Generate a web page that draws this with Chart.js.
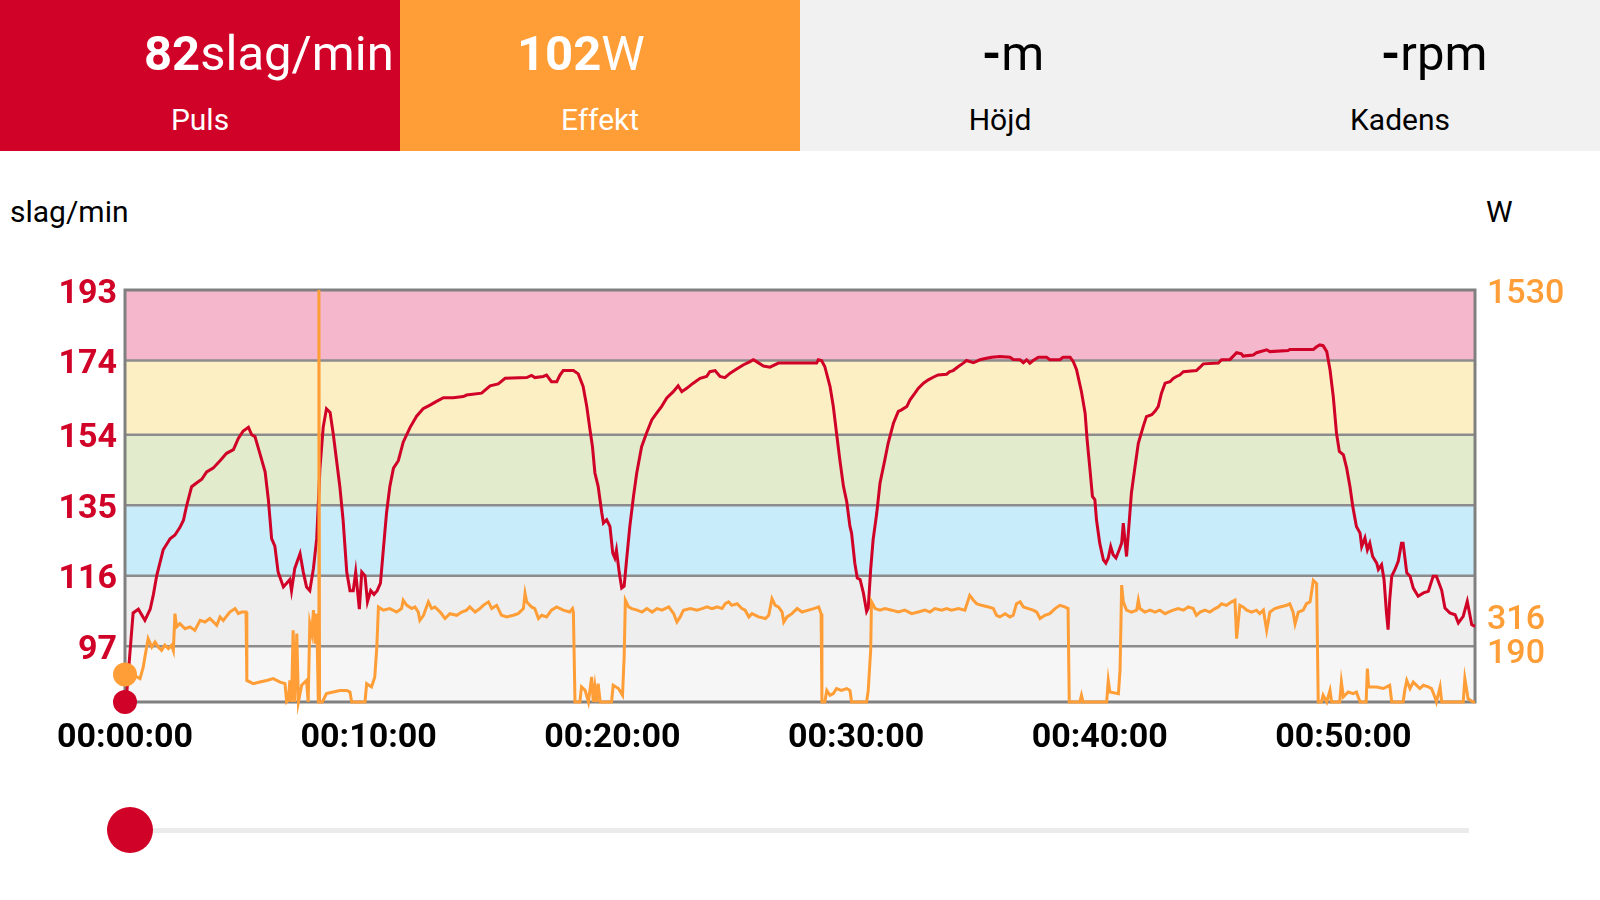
<!DOCTYPE html>
<html>
<head>
<meta charset="utf-8">
<script src="https://cdn.jsdelivr.net/npm/chart.js@4.4.1/dist/chart.umd.min.js"></script>
<style>
  body { margin: 0; width: 1600px; height: 900px; background: #fff; font-family: Roboto, sans-serif; position: relative; overflow: hidden; }
  .tile { position: absolute; top: 0; width: 400px; height: 151px; }
  .val { position: absolute; top: 29px; font-size: 49px; line-height: 1; white-space: nowrap; }
  .val b { font-weight: bold; }
  .lbl { position: absolute; top: 105px; left: 0; width: 100%; text-align: center; font-size: 30px; line-height: 1; }
  .unit { position: absolute; top: 197px; font-size: 30px; line-height: 1; color: #000; }
  #wrap { position: absolute; left: 0; top: 151px; width: 1600px; height: 749px; }
  #track { position: absolute; left: 150px; top: 828px; width: 1319px; height: 5px; background: #ebebeb; }
  #knob { position: absolute; left: 107px; top: 807px; width: 46px; height: 46px; border-radius: 50%; background: #d00227; }
</style>
</head>
<body>
<div class="tile" style="left:0;background:#d00227;color:#fff">
  <div class="val" style="left:144px"><b>82</b>slag/min</div>
  <div class="lbl">Puls</div>
</div>
<div class="tile" style="left:400px;background:#ff9d36;color:#fff">
  <div class="val" style="left:117px"><b>102</b>W</div>
  <div class="lbl">Effekt</div>
</div>
<div class="tile" style="left:800px;background:#f1f1f1;color:#000">
  <div class="val" style="left:182px"><b>-</b>m</div>
  <div class="lbl">Höjd</div>
</div>
<div class="tile" style="left:1200px;background:#f1f1f1;color:#000">
  <div class="val" style="left:181px"><b>-</b>rpm</div>
  <div class="lbl">Kadens</div>
</div>
<div class="unit" style="left:10px">slag/min</div>
<div class="unit" style="left:1486px">W</div>

<div id="wrap"><canvas id="chart" width="1600" height="749"></canvas></div>
<div id="track"></div>
<div id="knob"></div>

<script>
// heart rate, seconds from start / beats per minute
const hrTime = [
  0,4,20,33,49,62,70,78,94,111,123,135,144,152,164,176,189,201,217,234,
  250,267,279,291,304,312,320,332,345,353,361,369,377,390,398,406,410,418,431,439,
  447,455,464,472,480,488,496,505,513,521,529,537,546,554,562,568,577,583,591,597,
  605,613,621,629,636,644,652,661,673,685,702,718,734,751,767,784,808,833,
  841,878,899,919,936,989,1001,1009,1030,1038,1050,1063,1071,1079,1104,1116,1128,1137,1145,1151,
  1157,1165,1174,1178,1186,1194,1201,1206,1210,1217,1223,1229,1235,1243,1252,1260,1272,1284,1297,1309,
  1321,1334,1350,1362,1371,1383,1399,1416,1432,1440,1453,1465,1477,1490,1506,1522,1539,1547,1555,1572,
  1588,1609,1645,
  1662,1703,1707,1715,1723,1736,1744,1752,1760,1769,1777,1785,1789,1797,1803,1810,1818,1826,1830,1836,
  1842,1851,1859,1871,1879,1892,1904,1912,1925,1933,1945,1953,1966,1978,1990,2002,2023,2031,2039,2052,
  2064,2072,2089,2105,2121,2134,2154,2179,2187,2204,2212,2220,2228,2236,2249,2269,2277,2302,2310,2327,
  2335,2343,2355,2364,2369,2376,2382,2388,2392,2400,2409,2415,2421,2427,2433,2440,2448,2454,2458,2462,
  2466,2473,2478,2487,2495,2507,2515,
  2528,2536,2544,2552,2561,2573,2581,2589,2597,2606,2638,2647,2655,2692,2700,2721,2737,2749,2753,2778,
  2786,2811,2819,2864,2868,2926,2934,2942,2950,2959,2967,2975,2983,2990,3000,3008,3016,3023,3032,3041,
  3045,3053,3059,3065,3072,3082,3086,3094,3100,3106,3110,3114,3119,3127,3135,3143,3147,3156,3164,3172,
  3184,3197,3209,3221,3229,3242,3250,3262,3275,3283,3295,3305,3316,3324
];
const hrBpm = [
  82,84,106,107,104,107,111,116,123,126,127,129,131,135,140,141,142,144,145,147,
  149,150,153,155,156,154,153.5,149,144,136.5,126,124,117,113,114,115,112,118,122,117,
  113,112,118,126,145,156,161,160,154,147,140,131,117,112,112,117,107,117,116,109,
  112,111,112,114,123,133,140,145,147,152,156,159,161,162,163,164,164,164.3,
  164.7,165.2,167.2,167.7,169.2,169.4,170,169.4,169.7,170.1,168.3,168.3,170.1,171.3,171.3,170.4,167,161.6,155.3,150.8,
  143.7,140.1,132.9,130.2,131.1,129.3,122.1,120.8,123,116.8,112.7,113.2,120.3,129.3,137.4,143.7,150.8,154.4,158,159.8,
  161.6,163.9,165.6,167.2,165.6,166.5,167.9,169.2,169.7,171,171.3,169.7,169.4,170.6,171.7,172.8,173.7,174.2,173.7,172.5,
  172.2,173.3,173.3,
  173.3,173.3,174.2,174,172.4,167,161.6,154.4,147.3,140.1,136,129.3,127.5,119.4,115.4,115,111.4,106.4,107.3,117.7,
  125.7,132.9,141,147.3,151.7,157.1,160.3,160.7,161.6,163.4,165.2,166.5,167.9,168.8,169.5,170.1,170.3,171,171.3,172.4,
  173.3,174,173.4,174.2,174.6,174.9,175.1,174.9,174.3,174.2,173.4,174.2,173.3,174,174.9,174.9,174.2,174.2,174.9,174.9,
  173.7,171.5,165.6,159.8,152.6,144.6,137.4,136.5,131.1,124.8,120.3,119.4,120.8,123.9,121.7,120.8,123,124.8,130.2,125.7,
  121.2,131.1,138.3,145.5,151.7,156.2,158.9,
  159.4,160.3,161.6,165.2,167.9,168.3,169.2,169.7,170.1,171,171.3,172.2,173.1,173.3,174.2,174.3,176.1,175.8,175.2,175.5,
  176.1,176.9,176.4,176.7,177,177,177.7,178.2,178,176.4,171.5,164.3,154.4,149.5,148.6,145,140.1,134.7,129.3,127.5,
  123.9,126.2,123,124.8,121.2,119.4,117.7,119,115,106,101.5,109.6,115.9,117.7,119.9,124.8,124.8,116.8,115.9,112.7,
  110.5,111.4,111.8,115.9,115.9,112.1,107.3,106,105.5,103.3,105.1,109.1,102.8,102.4
];

// power, seconds from start / watts
const powerTime = [
  0,8,20,29,37,45,49,57,66,74,82,90,98,107,115,119,123,127,135,148,
  160,172,185,197,209,226,234,242,258,271,279,287,298,300,316,332,349,365,382,394,
  398,402,406,410,414,418,423,427,435,447,451,455,460,464,468,472,476,477.5,479,486,
  496,513,529,546,554,558,591,595,607,615,620,
  624,636,652,669,681,685,694,706,714,722,726,735,747,755,763,776,788,800,817,829,
  841,849,862,874,882,895,903,915,927,940,956,968,981,985,989,1001,1009,1018,1026,1038,
  1050,1063,1079,1095,1102,1104,1108,
  1120,1124,1133,1141,1149,1153,1157,1161,1165,1170,1198,1202,1215,1225,1229,
  1232,1240,1248,1261,1273,1285,1298,1310,1322,1339,1351,1359,1367,1375,1392,1408,1421,1433,1445,1458,
  1470,1478,1486,1494,1507,1519,1527,1536,1544,1560,1577,1585,1593,1601,1609,1618,1622,1630,1642,1655,
  1667,1683,1696,1708,1714,1716,
  1723,1728,1736,1744,1752,1764,1777,1785,1789,1826,1830,1836,
  1838,1847,1859,1871,1888,1904,1920,1937,1953,1970,1982,1994,2011,2023,2035,2052,2068,2080,2089,2097,
  2109,2126,2138,2146,2154,2167,2179,2187,2195,2204,2212,2224,2236,2245,2253,2265,2277,2290,2302,2314,
  2322,2325,
  2351,2355,2359,2417,2421,2425,2446,2450,
  2454,2458,2466,2478,2491,2495,2499,2511,2524,2536,2548,2561,2569,2581,2593,2606,2618,2630,2638,2647,
  2659,2671,2684,2692,2700,2712,2725,2733,2737,2745,2753,2762,2774,2786,2794,2803,2811,2819,2831,2844,
  2860,2868,2876,2881,2889,2901,2909,2918,2926,2934,2938,
  2946,2950,2959,2967,2971,2991,2995,3000,3012,3024,3032,3041,3056,3059,3062,3082,3098,3114,3119,3147,
  3151,3156,3164,3172,3188,3197,3209,3217,3225,3229,3238,3242,3295,3299,3307,3320,3324
];
const powerWatt = [
  102,93,99,93,87,130,167,235,204,223,204,192,211,198,211,192,328,279,291,272,
  279,266,303,297,310,285,316,303,334,347,328,334,334,80,68,74,80,87,74,68,
  0,6,80,0,266,0,254,0,62,80,0,291,254,341,217,328,0,1530,0,0,
  31,37,43,43,37,0,0,68,56,93,204,
  353,341,347,334,347,378,359,347,353,334,303,322,372,347,353,334,310,328,322,334,
  341,353,334,347,359,372,347,359,322,316,322,328,347,403,372,353,347,310,322,316,
  341,353,341,334,347,334,0,
  0,56,43,0,93,0,56,0,68,0,0,62,50,25,167,
  378,353,347,341,334,347,334,347,341,353,328,297,316,341,347,341,347,353,347,353,
  347,365,372,359,365,347,341,316,328,316,310,322,384,359,353,334,297,316,328,347,
  334,341,347,353,328,0,
  0,43,25,31,50,43,50,43,0,0,43,192,
  372,347,341,347,341,334,341,328,334,341,334,347,341,347,341,347,341,396,378,365,
  359,353,347,322,316,328,316,322,365,372,353,347,341,334,310,322,328,347,359,353,
  347,0,
  0,25,0,0,80,37,31,118,
  434,372,341,334,341,378,347,334,341,334,341,328,334,341,347,341,353,347,322,334,
  341,334,347,353,365,359,372,378,235,359,353,341,334,341,328,341,266,334,347,353,
  359,365,334,290,334,341,365,372,452,440,0,
  0,25,0,43,0,0,74,19,37,31,37,0,0,124,56,56,50,62,0,0,
  43,80,50,74,50,62,56,50,19,0,56,0,0,87,12,0,0
];

const timeTicks = [0, 600, 1200, 1800, 2400, 3000];
const bpmTicks = [97, 116, 135, 154, 174, 193];
const wattTicks = [190, 316, 1530];
// heart rate zone edges and fills, bottom to top
const zoneEdges = [82, 97, 116, 135, 154, 174, 193];
const zoneColors = ['#f6f6f6', '#edeeed', '#c8ecf9', '#e2ebcb', '#fdefc4', '#f5b7cb'];

const RED = '#d00227';
const ORANGE = '#ff9d36';

function hms(s) {
    const h = Math.floor(s / 3600), m = Math.floor((s % 3600) / 60), sec = s % 60;
    return [h, m, sec].map(v => String(v).padStart(2, '0')).join(':');
}

// zone bands, grid lines and frame under the lines
const zonePlugin = {
    id: 'zones',
    beforeDatasetsDraw(chart) {
        const { ctx, chartArea: a, scales: { y } } = chart;
        ctx.save();
        for (let i = 0; i < zoneColors.length; i++) {
            const top = y.getPixelForValue(zoneEdges[i + 1]);
            const bottom = y.getPixelForValue(zoneEdges[i]);
            ctx.fillStyle = zoneColors[i];
            ctx.fillRect(a.left, top, a.right - a.left, bottom - top);
        }
        ctx.strokeStyle = '#8c8c8c';
        ctx.lineWidth = 2.5;
        for (let i = 1; i < zoneEdges.length - 1; i++) {
            const py = y.getPixelForValue(zoneEdges[i]);
            ctx.beginPath();
            ctx.moveTo(a.left, py);
            ctx.lineTo(a.right, py);
            ctx.stroke();
        }
        ctx.strokeStyle = '#808080';
        ctx.lineWidth = 3;
        ctx.strokeRect(a.left, a.top, a.right - a.left, a.bottom - a.top);
        ctx.restore();
    }
};

const dot = ctx => (ctx.dataIndex === 0 ? 12 : 0);

new Chart(document.getElementById('chart'), {
    type: 'line',
    data: {
        datasets: [
            {
                label: 'Effekt',
                data: powerTime.map((t, i) => ({ x: t, y: powerWatt[i] })),
                yAxisID: 'y2',
                borderColor: ORANGE,
                backgroundColor: ORANGE,
                borderWidth: 3,
                pointRadius: dot,
                pointBorderWidth: 0,
                tension: 0,
                clip: false,
                order: 0
            },
            {
                label: 'Puls',
                data: hrTime.map((t, i) => ({ x: t, y: hrBpm[i] })),
                yAxisID: 'y',
                borderColor: RED,
                backgroundColor: RED,
                borderWidth: 3,
                pointRadius: dot,
                pointBorderWidth: 0,
                tension: 0,
                clip: false,
                order: 1
            }
        ]
    },
    options: {
        responsive: false,
        animation: false,
        layout: { padding: { top: 139, left: 0, right: 0, bottom: 0 } },
        plugins: { legend: { display: false }, tooltip: { enabled: false } },
        scales: {
            x: {
                type: 'linear',
                min: 0,
                max: 3324,
                grid: { display: false, drawTicks: false },
                border: { display: false },
                afterBuildTicks: s => { s.ticks = timeTicks.map(v => ({ value: v })); },
                afterFit: s => { s.height = 198; },
                ticks: {
                    autoSkip: false,
                    maxRotation: 0,
                    padding: 16,
                    color: '#000',
                    font: { family: 'Roboto', size: 34, weight: 'bold' },
                    callback: v => hms(v)
                }
            },
            y: {
                position: 'left',
                min: 82,
                max: 193,
                grid: { display: false, drawTicks: false },
                border: { display: false },
                afterBuildTicks: s => { s.ticks = bpmTicks.map(v => ({ value: v })); },
                afterFit: s => { s.width = 125; },
                ticks: {
                    padding: 8,
                    labelOffset: 4,
                    color: RED,
                    font: { family: 'Roboto', size: 34, weight: 'bold' },
                    callback: v => String(v)
                }
            },
            y2: {
                position: 'right',
                min: 0,
                max: 1530,
                grid: { display: false, drawTicks: false },
                border: { display: false },
                afterBuildTicks: s => { s.ticks = wattTicks.map(v => ({ value: v })); },
                afterFit: s => { s.width = 125; },
                ticks: {
                    padding: 12,
                    labelOffset: 4,
                    color: ORANGE,
                    font: { family: 'Roboto', size: 34, weight: '500' },
                    callback: v => String(v)
                }
            }
        }
    },
    plugins: [zonePlugin]
});
</script>
</body>
</html>
